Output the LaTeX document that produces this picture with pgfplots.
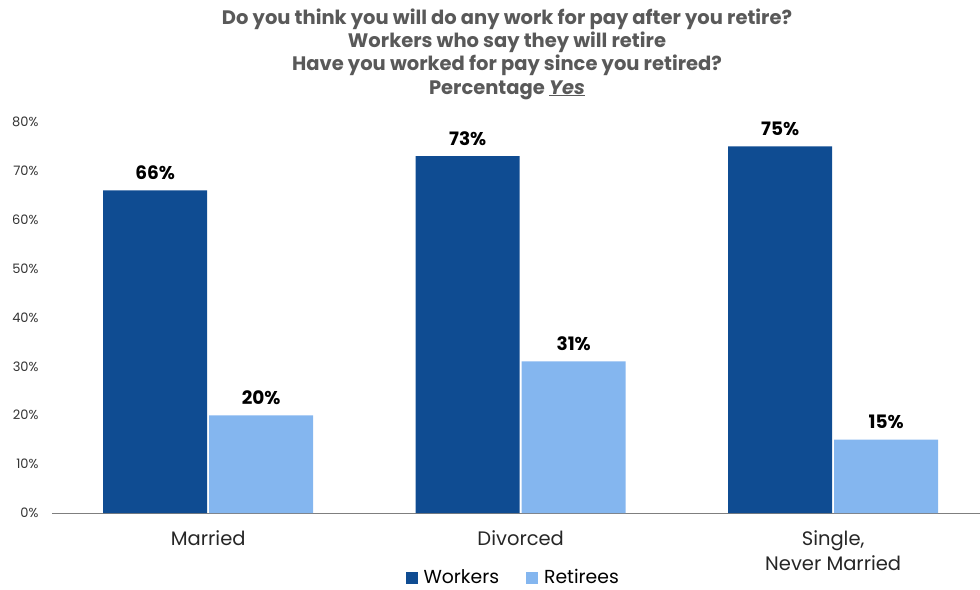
\documentclass[border=0pt]{standalone}
\usepackage{fontspec}
\setmainfont{Poppins}
\usepackage{pgfplots}
\pgfplotsset{compat=1.18}
\definecolor{workers}{HTML}{0F4C92}
\definecolor{retirees}{HTML}{84B6EF}
\definecolor{titlegray}{HTML}{595959}
\definecolor{axisgray}{HTML}{7F7F7F}
\begin{document}
\begin{tikzpicture}
\useasboundingbox (0,0) rectangle (980bp,590bp);
\begin{axis}[
  at={(52bp,77bp)}, anchor=south west,
  scale only axis, width=928bp, height=391bp,
  xmin=-0.5, xmax=2.47, ymin=0, ymax=80,
  ybar, bar width=104bp, bar shift auto,
  xtick={0,1,2},
  xticklabels={Married, Divorced, {Single,\\Never Married}},
  xticklabel style={align=center, font=\fontsize{19.5bp}{25bp}\selectfont, text=black!85, anchor=north, yshift=-14bp},
  ytick={0,10,...,80},
  yticklabel={\pgfmathprintnumber{\tick}\%},
  yticklabel style={font=\fontsize{13bp}{14bp}\selectfont, text=black!80, anchor=east, xshift=-10bp},
  /pgf/number format/assume math mode=true,
  major tick length=0pt,
  axis x line*=bottom, axis y line*=left,
  x axis line style={axisgray, line width=1pt, -},
  y axis line style={draw=none},
  nodes near coords={\pgfmathprintnumber{\pgfplotspointmeta}\%},
  nodes near coords style={font=\bfseries\fontsize{18.5bp}{20bp}\selectfont, text=black, yshift=7bp},
  legend style={at={(0.497,-0.165)}, anchor=center, draw=none, legend columns=2,
    font=\fontsize{18.8bp}{20bp}\selectfont, /tikz/every even column/.append style={column sep=25bp}},
  legend image code/.code={\fill[#1] (0bp,-6bp) rectangle (12bp,6bp); \path (16bp,0bp);},
  clip=false,
]
\addplot[fill=workers, draw=none] coordinates {(0,66) (1,73) (2,75)};
\addplot[fill=retirees, draw=none] coordinates {(0,20) (1,31) (2,15)};
\legend{Workers, Retirees}
\end{axis}
\node[font=\bfseries\fontsize{19.5bp}{23.3bp}\selectfont, text=titlegray, align=center, anchor=north] at (507bp,585bp)
  {Do you think you will do any work for pay after you retire?\\
   Workers who say they will retire\\
   Have you worked for pay since you retired?\\
   Percentage \underline{\textit{Yes}}};
\end{tikzpicture}
\end{document}
